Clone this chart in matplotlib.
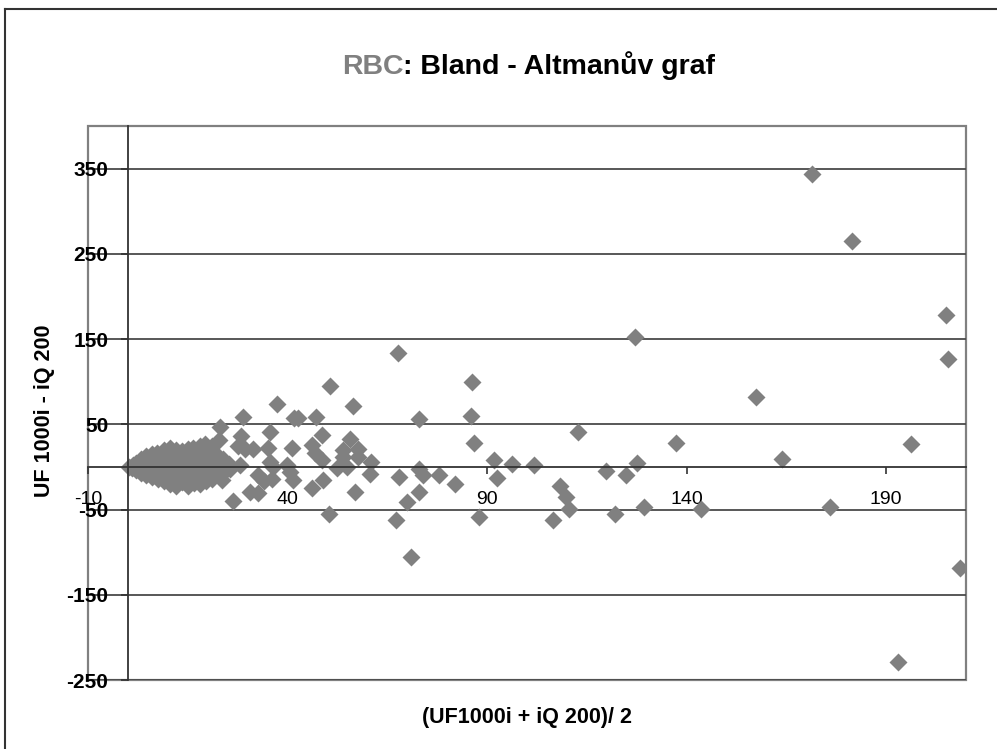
import matplotlib
matplotlib.use("Agg")
from matplotlib import pyplot as plt
from matplotlib.patches import Rectangle
from matplotlib.lines import Line2D

plt.rcParams["font.family"] = ["Liberation Sans", "DejaVu Sans"]

# dense cluster of small values (mean, difference)
cluster_mean = [0.3, 1, 1.2, 2, 2.1, 2, 3.2, 3.1, 3.3, 3.2,
                4.5, 4.4, 4.6, 4.5, 4.5, 6, 6.1, 5.9, 6, 6.2, 6,
                7.5, 7.4, 7.6, 7.5, 7.5, 7.4, 9, 9.1, 8.9, 9, 9.2, 9, 9.1,
                10.5, 10.4, 10.6, 10.5, 10.5, 10.4, 10.6, 12, 12.1, 11.9, 12, 12.2, 12, 12.1,
                13.5, 13.4, 13.6, 13.5, 13.5, 15, 15.1, 14.9, 15, 15.2, 15, 15.1,
                16.5, 16.4, 16.6, 16.5, 16.5, 16.4, 18, 18.1, 17.9, 18, 18.2, 18, 18.1,
                19.5, 19.4, 19.6, 19.5, 19.5, 19.4, 21, 21.1, 20.9, 21, 21.2, 21,
                22.5, 22.4, 22.6, 22.5, 24, 24.1, 23.9, 25.5, 25.4]
cluster_diff = [0, -1, 2, -4, 1, 5, -7, -1, 5, 9,
                -10, -3, 3, 10, 13, -12, -6, 0, 6, 12, 15,
                -14, -7, -1, 5, 11, 16, -16, -9, -3, 4, 10, 17, 20,
                -20, -12, -5, 2, 9, 15, 22, -22, -14, -7, 1, 8, 14, 20,
                -18, -10, 6, 13, 19, -22, -15, -8, 3, 10, 17, 21,
                -19, -11, -4, 7, 14, 22, -20, -13, -6, 1, 9, 17, 25,
                -17, -9, 3, 12, 20, 27, -14, -6, 2, 10, 18, 24,
                -10, -3, 5, 13, -6, 2, 9, -3, 4]

# remaining points
mean_vals = [22.8, 23, 23.5, 26.3, 27.6, 28.1, 28.3, 28.8, 29.3, 30.6,
             31.4, 32.5, 32.7, 34, 36, 35.1, 35.5, 35.6, 36.4, 37.3,
             39.8, 40.6, 41, 41.4, 41.5, 42.5, 46, 46.9, 46.2, 47.1,
             48.6, 48.6, 49, 50.5, 50.6, 52.3, 53.9, 54, 54.8, 55.7,
             56.4, 57, 57.7, 57.7, 60.9, 60.7, 67.2, 67.7, 68, 70,
             71, 73, 73, 74, 73, 78, 82, 86, 86.2, 86.7,
             88, 91.8, 92.5, 96.3, 101.8, 106.5, 108.3, 109.8, 110.5, 112.8,
             119.8, 122, 124.8, 127, 127.6, 129.3, 137.4, 143.6, 157.4, 163.8,
             171.5, 176, 181.4, 193, 196.1, 205, 205.5, 208.6]
diff_vals = [31.7, 47, -15.5, -40, 24.6, 2, 36, 58, 21, -29,
             21, -9, -31, -17, -14, 22, 41, 6, 0, 74,
             2, -6, 22, -15.5, 57, 57, 26, 16.4, -25, 58,
             37.6, 8, -15.5, -55.5, 95.5, -1, 20, 12, 0, 33,
             72, -29, 21, 11.7, 6, -8.4, -62.6, 134, -12, -41,
             -106, 56, -2.5, -9.5, -29.6, -9.5, -20, 60, 100, 28,
             -59, 8, -13, 3.4, 2.2, -62.6, -22.5, -35.5, -49.6, 41,
             -5, -55.5, -9.5, 152, 4.6, -47, 28, -49.6, 82.4, 9.5,
             344, -46.5, 265, -229.4, 26.5, 178.7, 126.5, -118]

x_ticks = [-10, 40, 90, 140, 190]
y_ticks = [-250, -150, -50, 50, 150, 250, 350]

fig = plt.figure(figsize=(9.97, 7.49), dpi=100)
ax = fig.add_axes([0.0883, 0.0921, 0.8806, 0.7397])

ax.plot(cluster_mean, cluster_diff, "D", color="#808080", ms=9, mec="none")
ax.plot(mean_vals, diff_vals, "D", color="#808080", ms=9, mec="none")

ax.set_xlim(-10, 210)
ax.set_ylim(-250, 400)

# move axis lines to the zero point (this resets ticks, so set them after)
ax.spines["left"].set_position(("data", 0))
ax.spines["bottom"].set_position(("data", 0))
for s in ["left", "bottom"]:
    ax.spines[s].set_color("#333333")
    ax.spines[s].set_linewidth(1.3)
ax.spines["top"].set_visible(False)
ax.spines["right"].set_visible(False)

ax.set_xticks(x_ticks)
ax.set_yticks(y_ticks)
ax.set_xticklabels([str(v) for v in x_ticks])
ax.set_yticklabels([str(v) for v in y_ticks])
ax.tick_params(axis="x", length=5, width=1.2, color="#333333", pad=12, labelsize=14)
ax.tick_params(axis="y", length=5, width=1.2, color="#333333", pad=9, labelsize=15)
for lab in ax.get_yticklabels():
    lab.set_fontweight("bold")
ax.yaxis.grid(True, color="#4a4a4a", lw=1.3)
ax.set_axisbelow(True)

# plot area border
ax.add_patch(Rectangle((0, 0), 1, 1, transform=ax.transAxes, fill=False,
                       ec="#808080", lw=1.6, clip_on=False, zorder=0.5))

# title in two colours
t1 = fig.text(0.343, 0.893, "RBC", color="#808080", fontsize=20.5,
              fontweight="bold", ha="left", va="bottom")
ax.annotate(": Bland - Altmanův graf", xy=(1, 0), xycoords=t1,
            fontsize=20.5, fontweight="bold", color="black",
            ha="left", va="bottom")

fig.text(0.529, 0.0414, "(UF1000i + iQ 200)/ 2", fontsize=15.5, fontweight="bold",
         ha="center", va="center")
fig.text(0.045, 0.451, "UF 1000i - iQ 200", fontsize=15.5, fontweight="bold",
         rotation=90, ha="center", va="center")

# outer frame (top and left edges visible)
fig.add_artist(Line2D([0.005, 1.0], [0.988, 0.988], color="#333333", lw=1.5))
fig.add_artist(Line2D([0.005, 0.005], [0.0, 0.988], color="#333333", lw=1.5))

fig.savefig("out.png", dpi=100)
